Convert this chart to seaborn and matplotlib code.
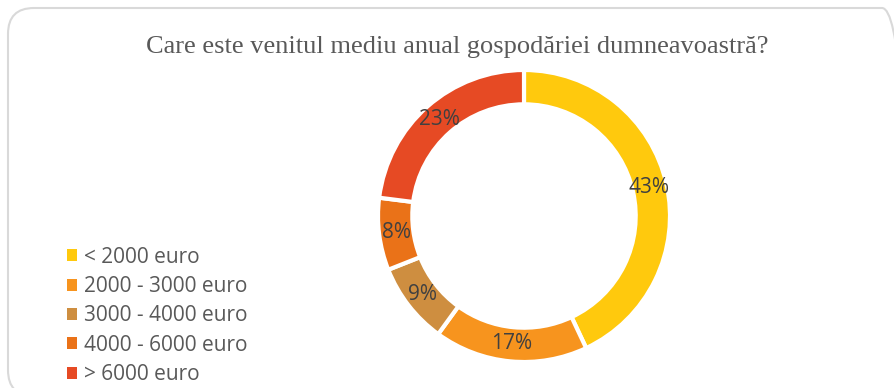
import seaborn as sns
import matplotlib.pyplot as plt
from matplotlib.patches import FancyBboxPatch, Patch
from matplotlib.transforms import IdentityTransform

# Data
categories = ["< 2000 euro", "2000 - 3000 euro", "3000 - 4000 euro",
              "4000 - 6000 euro", "> 6000 euro"]
shares = [43, 17, 9, 8, 23]
colors = ["#FFC90D", "#F7941E", "#CE8E40", "#EA7218", "#E64A24"]
title = "Care este venitul mediu anual gospodăriei dumneavoastră?"

sns.set_theme(style="white")
plt.rcParams["font.family"] = ["Open Sans", "DejaVu Sans"]
palette = sns.color_palette(colors)

W, H = 895, 388
fig = plt.figure(figsize=(W / 100, H / 100), dpi=100)

# Card border with rounded corners (pixel coordinates, runs off right/bottom)
card = FancyBboxPatch((8, -8), 900, 388, transform=IdentityTransform(),
                      boxstyle="round,pad=0,rounding_size=26",
                      facecolor="none", edgecolor="#d9d9d9",
                      linewidth=1.5, zorder=-1)
fig.patches.append(card)

# Donut: centre (524, 216) px, outer radius 146 px
cx, cy, r = 524, 216, 146
ax = fig.add_axes([(cx - r) / W, (H - cy - r) / H, 2 * r / W, 2 * r / H])
wedges, _, autotexts = ax.pie(
    shares, colors=palette, startangle=90, counterclock=False,
    autopct=lambda p: f"{p:.0f}%", pctdistance=0.88,
    wedgeprops=dict(width=0.235, edgecolor="white", linewidth=3),
    textprops=dict(fontsize=15, color="#404040"))
ax.set_xlim(-1, 1)
ax.set_ylim(-1, 1)
ax.set_aspect("equal")
ax.axis("off")
for w in wedges:
    w.set_clip_on(False)

fig.text(457 / W, 1 - 47 / H, title, ha="center", va="center",
         fontsize=19, color="#595959", family=["Liberation Serif"])

handles = [Patch(facecolor=c, edgecolor="none") for c in palette]
fig.legend(handles, categories, loc="upper left",
           bbox_to_anchor=(48 / W, 1 - 228 / H), frameon=False,
           fontsize=15, labelcolor="#595959", handlelength=0.5,
           handleheight=0.5, handletextpad=0.35, labelspacing=0.4)

plt.savefig("out.png", dpi=100)
